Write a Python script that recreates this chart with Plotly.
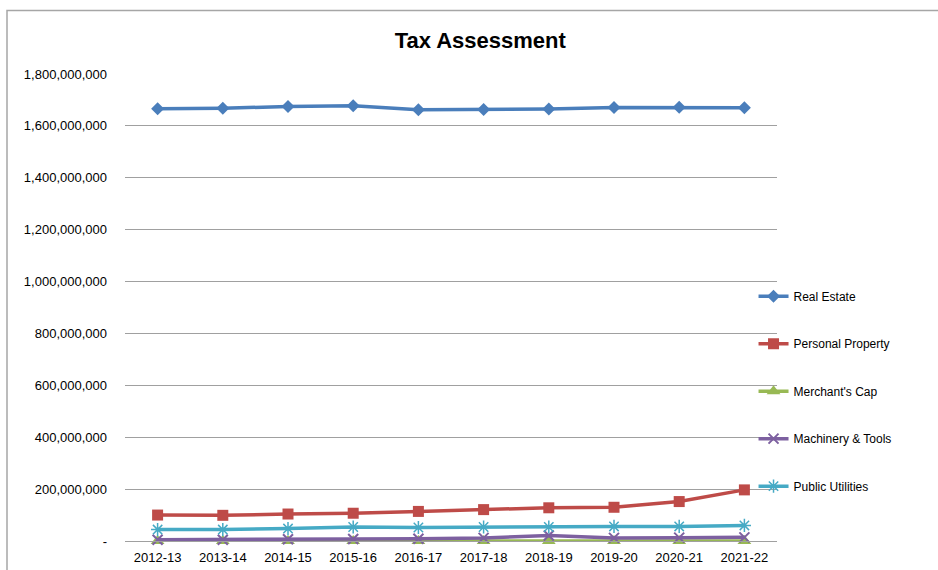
import plotly.graph_objects as go

years = ["2012-13", "2013-14", "2014-15", "2015-16", "2016-17",
         "2017-18", "2018-19", "2019-20", "2020-21", "2021-22"]
real_estate = [1666e6, 1668e6, 1675e6, 1678e6, 1662e6, 1663e6, 1665e6, 1671e6, 1672e6, 1670e6]
personal_property = [100e6, 99e6, 104e6, 107e6, 114e6, 121e6, 128e6, 130e6, 152e6, 197e6]
merchants_cap = [0, 0, 0, 0, 0, 0, 0, 0, 0, 0]
machinery_tools = [5e6, 5e6, 7e6, 8e6, 9e6, 12e6, 21e6, 12e6, 13e6, 14e6]
public_utilities = [44e6, 44e6, 48e6, 54e6, 52e6, 54e6, 54e6, 56e6, 56e6, 60e6]

tick_vals = [0, 200e6, 400e6, 600e6, 800e6, 1000e6, 1200e6, 1400e6, 1600e6, 1800e6]
tick_text = ["-", "200,000,000", "400,000,000", "600,000,000", "800,000,000",
             "1,000,000,000", "1,200,000,000", "1,400,000,000", "1,600,000,000", "1,800,000,000"]

series = [
    ("Real Estate", real_estate, "#4A7EBB", dict(symbol="diamond", size=10)),
    ("Personal Property", personal_property, "#BE4B48", dict(symbol="square", size=11)),
    ("Merchant's Cap", merchants_cap, "#98B954", dict(symbol="triangle-up", size=12)),
    ("Machinery & Tools", machinery_tools, "#7D60A0", dict(symbol="x-thin-open", size=10,
                                                           line=dict(width=2, color="#7D60A0"))),
    ("Public Utilities", public_utilities, "#46AAC5", dict(symbol="asterisk-open", size=11,
                                                          line=dict(width=1.5, color="#46AAC5"))),
]

fig = go.Figure()
for i, (name, vals, color, mk) in enumerate(series):
    fig.add_trace(go.Scatter(
        x=years, y=vals, name=name, mode="lines+markers",
        line=dict(color=color, width=3.5),
        marker=dict(color=color, **mk),
        legendgroup=f"g{i}",
        cliponaxis=False,
    ))

fig.update_layout(
    width=938, height=570,
    margin=dict(l=125, r=161, t=74, b=29, autoexpand=False),
    paper_bgcolor="white", plot_bgcolor="white",
    font=dict(family="Liberation Sans, Arial, sans-serif", size=13, color="black"),
    title=dict(text="<b>Tax Assessment</b>", x=0.512, xref="container", xanchor="center",
               y=1 - 40 / 570, yref="container", yanchor="middle",
               font=dict(size=22, color="black")),
    showlegend=True,
    legend=dict(x=0.964, xanchor="left", y=0.5554, yanchor="top",
                font=dict(size=12), tracegroupgap=28.5, bgcolor="rgba(0,0,0,0)",
                itemwidth=30),
    xaxis=dict(range=[-0.5, 9.5], showgrid=False, showline=True, linecolor="#a0a0a0",
               linewidth=1, ticks="", ticklabelstandoff=4, automargin=False),
    yaxis=dict(range=[0, 1.8e9], tickvals=tick_vals, ticktext=tick_text,
               showgrid=True, gridcolor="#a0a0a0", gridwidth=1, automargin=False,
               zeroline=False, showline=False, ticks="", ticklabelstandoff=17),
    shapes=[dict(type="rect", xref="paper", yref="paper",
                 x0=(7 - 125) / 652, x1=2.0, y0=-0.5, y1=(541 - 10.5) / 467,
                 line=dict(color="#a6a6a6", width=1.5), fillcolor="rgba(0,0,0,0)",
                 layer="below")],
)

fig.write_html("out.html", config={"displayModeBar": False},
               post_script="document.body.style.margin='0';document.body.style.overflow='hidden';")
